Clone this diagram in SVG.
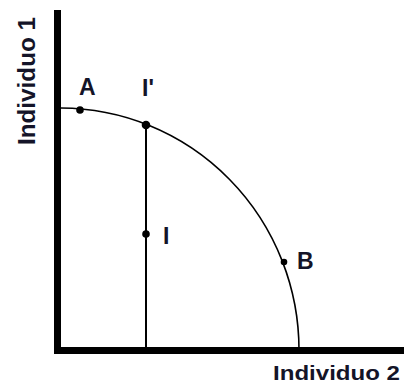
<svg xmlns="http://www.w3.org/2000/svg" width="404" height="385" viewBox="0 0 404 385">
<style>
.lbl{font-family:"Liberation Sans",Arial,sans-serif;font-weight:bold;font-size:23px;fill:#141428}
.dot{fill:#000}
.axis{stroke:#000;stroke-width:7;fill:none}
.curve{stroke:#000;stroke-width:1.6;fill:none}
</style>
<rect width="404" height="385" fill="#fff"/>
<g id="axes">
<line class="axis" x1="57.5" y1="10" x2="57.5" y2="354"/>
<line class="axis" x1="54" y1="350.5" x2="404" y2="350.5"/>
<text class="lbl" transform="translate(35,145) rotate(-90)" textLength="128" lengthAdjust="spacingAndGlyphs">Individuo 1</text>
<text class="lbl" x="273" y="380" style="font-size:21px" textLength="127" lengthAdjust="spacingAndGlyphs">Individuo 2</text>
</g>
<g id="connectors">
<path class="curve" d="M61,108 A239 242 0 0 1 299,350"/>
<line x1="146" y1="125" x2="146" y2="350" stroke="#000" stroke-width="2"/>
</g>
<g id="A"><circle class="dot" cx="80" cy="110" r="3.8"/><text class="lbl" x="79" y="95">A</text></g>
<g id="Iprime"><circle class="dot" cx="146" cy="125" r="4.3"/><text class="lbl" x="142" y="96">I'</text></g>
<g id="I"><circle class="dot" cx="146" cy="234" r="3.8"/><text class="lbl" x="163" y="244">I</text></g>
<g id="B"><circle class="dot" cx="284" cy="262" r="3.3"/><text class="lbl" x="297" y="269">B</text></g>
</svg>
